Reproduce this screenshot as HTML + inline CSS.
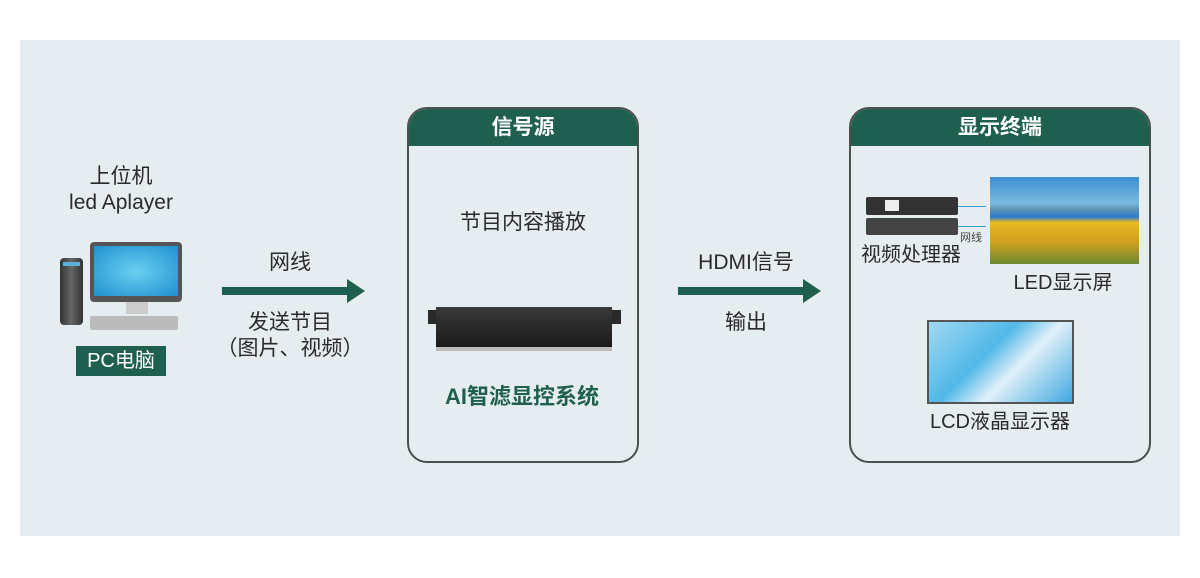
<!DOCTYPE html>
<html><head><meta charset="utf-8"><style>
*{margin:0;padding:0;box-sizing:border-box}
body{width:1200px;height:578px;background:#fff;position:relative;overflow:hidden;font-family:"Liberation Sans","Noto Sans CJK SC",sans-serif;color:#2a2a2a}
.bg{position:absolute;left:20px;top:40px;width:1160px;height:496px;background:#e6edf0}
.t{position:absolute;white-space:nowrap;transform:translateX(-50%);font-size:21px;line-height:1}
.box{position:absolute;border:2px solid #4a4f4f;border-radius:20px;overflow:hidden;background:#e6edf0}
.hd{background:#1f5f4f;height:37px;color:#fff;font-size:21px;font-weight:bold;text-align:center;line-height:37px}
.arrow{position:absolute;height:8px;background:#1f5f4f}
.arrow:after{content:"";position:absolute;right:-16px;top:-8px;border-left:18px solid #1f5f4f;border-top:12px solid transparent;border-bottom:12px solid transparent}
.a{position:absolute}
</style></head><body>
<div class="bg"></div>

<div class="t" style="left:121px;top:166px">上位机</div>
<div class="t" style="left:121px;top:192px">led Aplayer</div>
<!-- PC -->
<div class="a" style="left:60px;top:258px;width:23px;height:67px;background:linear-gradient(90deg,#333,#666,#333);border-radius:4px"></div>
<div class="a" style="left:63px;top:262px;width:17px;height:4px;background:#5ab0d8"></div>
<div class="a" style="left:90px;top:242px;width:92px;height:60px;background:#555;border-radius:4px"></div>
<div class="a" style="left:94px;top:246px;width:84px;height:50px;background:radial-gradient(#6ad0f0,#1f8fd0)"></div>
<div class="a" style="left:126px;top:302px;width:22px;height:12px;background:#ccc"></div>
<div class="a" style="left:90px;top:316px;width:88px;height:14px;background:#bbb;border-radius:2px"></div>
<div class="a" style="left:76px;top:346px;width:90px;height:30px;background:#1f5f4f;color:#fff;font-size:20px;text-align:center;line-height:30px">PC电脑</div>

<div class="arrow" style="left:222px;top:287px;width:127px"></div>
<div class="t" style="left:290px;top:252px">网线</div>
<div class="t" style="left:290px;top:312px">发送节目</div>
<div class="t" style="left:290px;top:338px">（图片、视频）</div>

<div class="box" style="left:407px;top:107px;width:232px;height:356px"><div class="hd">信号源</div></div>
<div class="t" style="left:523px;top:212px">节目内容播放</div>
<div class="a" style="left:428px;top:310px;width:193px;height:14px;background:#2a2a2a"></div>
<div class="a" style="left:436px;top:307px;width:176px;height:40px;background:linear-gradient(#3a3a3a,#1a1a1a)"></div>
<div class="a" style="left:436px;top:347px;width:176px;height:4px;background:#bbb"></div>
<div class="t" style="left:522px;top:386px;color:#1f5f4f;font-weight:bold;font-size:22px">AI智滤显控系统</div>

<div class="arrow" style="left:678px;top:287px;width:127px"></div>
<div class="t" style="left:746px;top:252px">HDMI信号</div>
<div class="t" style="left:746px;top:312px">输出</div>

<div class="box" style="left:849px;top:107px;width:302px;height:356px"><div class="hd">显示终端</div></div>
<div class="a" style="left:866px;top:197px;width:92px;height:18px;background:#333;border-radius:2px"></div>
<div class="a" style="left:885px;top:200px;width:14px;height:11px;background:#eee"></div>
<div class="a" style="left:866px;top:218px;width:92px;height:17px;background:#444;border-radius:2px"></div>
<div class="a" style="left:958px;top:206px;width:28px;height:1px;background:#3aa0d0"></div>
<div class="a" style="left:958px;top:226px;width:28px;height:1px;background:#3aa0d0"></div>
<div class="a" style="left:960px;top:229px;font-size:11px;color:#444">网线</div>
<div class="t" style="left:911px;top:245px;font-size:20px">视频处理器</div>
<div class="a" style="left:990px;top:177px;width:149px;height:87px;background:linear-gradient(#3d8fd0 0%,#7ab8e0 30%,#5a90b0 38%,#2a7ad0 46%,#e8b820 52%,#d0a020 75%,#6a8a30 100%)"></div>
<div class="t" style="left:1063px;top:273px;font-size:20px">LED显示屏</div>
<div class="a" style="left:927px;top:320px;width:147px;height:84px;border:2px solid #555;background:linear-gradient(135deg,#a0d8f0,#50b8e8 40%,#e0f0f8 60%,#40a8e0)"></div>
<div class="t" style="left:1000px;top:412px;font-size:20px">LCD液晶显示器</div>
</body></html>
